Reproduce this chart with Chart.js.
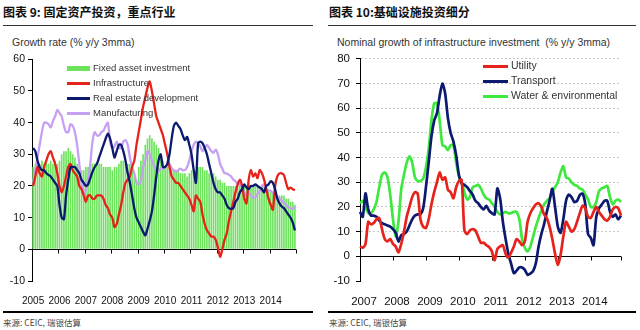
<!DOCTYPE html>
<html>
<head>
<meta charset="utf-8">
<script src="https://cdn.jsdelivr.net/npm/chart.js@4.4.1/dist/chart.umd.min.js"></script>
<style>
  body { margin: 0; width: 640px; height: 330px; background: #fff; position: relative; overflow: hidden;
         font-family: "Liberation Sans", Arial, sans-serif; color: #222; }
  .title { position: absolute; top: 3px; font-family: "Noto Sans CJK SC", sans-serif; font-weight: bold;
           font-size: 12px; line-height: 17px; color: #111; white-space: nowrap; }
  .rule { position: absolute; background: #333; }
  .sub { position: absolute; top: 36px; font-size: 10.5px; line-height: 12px; color: #333; white-space: nowrap; }
  .src { position: absolute; top: 316px; font-family: "Noto Sans CJK SC", sans-serif; font-size: 8.5px;
         line-height: 12px; color: #444; white-space: nowrap; }
  .legend { position: absolute; font-size: 9.5px; color: #333; }
  .legend div { height: 15px; line-height: 15px; white-space: nowrap; }
  .legend span { display: inline-block; vertical-align: middle; margin-right: 3px; }
  canvas { position: absolute; }
</style>
</head>
<body>
<div class="title" style="left:3px">图表 9: 固定资产投资，重点行业</div>
<div class="title" style="left:329px">图表 10:基础设施投资细分</div>
<div class="rule" style="left:3px; top:25px; width:310px; height:1px"></div>
<div class="rule" style="left:328px; top:25px; width:308px; height:1px"></div>
<div class="sub" style="left:12px">Growth rate (% y/y 3mma)</div>
<div class="sub" style="left:337px">Nominal growth of infrastructure investment&nbsp; (% y/y 3mma)</div>

<canvas id="left" width="310" height="255" style="left:0; top:50px"></canvas>
<canvas id="right" width="320" height="259" style="left:320px; top:46px"></canvas>

<div class="legend" style="left:67px; top:60px">
  <div><span style="width:23px; height:5px; background:#6de35c"></span>Fixed asset investment</div>
  <div><span style="width:23px; height:2.5px; background:#e5231b"></span>Infrastructure</div>
  <div><span style="width:23px; height:2.5px; background:#0b1a6e"></span>Real estate development</div>
  <div><span style="width:23px; height:2.5px; background:#c6a0f2"></span>Manufacturing</div>
</div>
<div class="legend" style="left:483px; top:58px; font-size:10.5px">
  <div><span style="width:25px; height:3px; background:#e5231b"></span>Utility</div>
  <div><span style="width:25px; height:3px; background:#0b1a6e"></span>Transport</div>
  <div><span style="width:25px; height:3px; background:#3ee83e"></span>Water &amp; environmental</div>
</div>

<div class="rule" style="left:3px; top:311px; width:310px; height:2px; background:#000"></div>
<div class="rule" style="left:328px; top:311px; width:308px; height:2px; background:#000"></div>
<div class="src" style="left:3px">来源: CEIC, 瑞银估算</div>
<div class="src" style="left:329px">来源: CEIC, 瑞银估算</div>

<script>
// ---- left chart: fixed asset investment by sector, monthly 2005-2014 ----
const leftYears = ['2005', '2006', '2007', '2008', '2009', '2010', '2011', '2012', '2013', '2014'];

const faiValues = [
  26, 27, 27, 27, 28, 27, 28, 27, 28, 27, 28, 27,
  28, 30, 31, 31, 32, 31, 30, 29, 27, 26, 25, 25,
  26, 26, 27, 27, 27, 27, 27, 27, 26, 26, 26, 26,
  25, 26, 26, 27, 28, 28, 28, 27, 27, 25, 23, 22,
  26, 28, 30, 33, 35, 36, 35, 34, 33, 32, 30, 28,
  26, 26, 26, 26, 25, 25, 25, 24, 24, 24, 23, 24,
  25, 25, 25, 26, 26, 26, 25, 25, 24, 24, 24, 23,
  22, 22, 21, 21, 20, 20, 20, 20, 20, 20, 20, 20,
  20, 20, 21, 20, 20, 20, 20, 20, 20, 20, 20, 19,
  18, 18, 17, 17, 17, 17, 17, 16, 16, 15, 15, 14
];

const infraValues = [
  20, 23, 26, 24, 23, 26, 28, 30, 31, 29, 27, 24,
  20, 18, 20, 23, 26, 27, 25, 24, 23, 20, 19, 17,
  15, 17, 17, 16, 16, 17, 17, 17, 16, 14, 13, 11,
  10, 7, 8, 11, 14, 18, 21, 22, 23, 26, 28, 33,
  37, 41, 45, 48, 51, 53, 50, 46, 42, 40, 38, 36,
  33, 30, 26, 23, 22, 21, 21, 20, 19, 18, 17, 16,
  14, 12, 17, 16, 15, 11, 8, 6, 5, 4, 4, 3,
  0.5, -2.4, 0, 3, 5, 9, 12, 15, 18, 20.5, 22, 20,
  16, 14.5, 22, 25, 23, 24, 22.5, 25, 24, 22, 19, 16,
  14, 12.5, 20, 23, 24, 24, 23.5, 21, 19, 19.5, 19, 18.7
];

const realEstateValues = [
  32, 31, 28, 26, 25, 25, 24, 23.5, 23, 22, 21, 20,
  14, 10, 9.5, 17, 22, 26, 26, 26, 25, 24, 22, 21,
  20, 20.5, 22.5, 24.5, 26, 27, 29, 31, 33, 35, 36.5, 35,
  32, 29, 31, 33, 33, 31, 28, 24, 21, 17, 13, 10,
  8.5, 7, 5.5, 4.4, 6.5, 9, 12, 17, 23, 28, 30, 26,
  26, 27, 30, 35, 39, 40, 39, 38, 36, 34.5, 35.5, 33,
  30, 25, 21, 33.5, 34, 33.5, 32, 30, 27, 24, 21, 19,
  18, 18, 17, 16, 14, 13, 12.8, 13, 15, 16, 18, 19,
  20.5, 19.5, 19, 20, 20, 20.5, 20, 19.5, 19, 18, 20, 20.5,
  21.5, 21, 19, 16, 14.5, 13.5, 13, 12, 11, 10, 8.5, 6
];

const manufValues = [
  21, 25, 29, 33, 37, 40, 40, 39.5, 38.5, 40.5, 42, 44,
  43, 42, 39, 37, 37, 39.5, 39, 37, 33, 27, 21, 17.5,
  19, 22, 27, 34, 37, 36, 36, 37, 37.5, 39, 40, 34,
  32, 32.5, 34, 32, 32, 34, 34.5, 33, 29, 26, 24, 21,
  20.5, 21.5, 26, 28, 31, 30, 28, 26.5, 25, 24.5, 25.5, 25.5,
  26, 26.5, 27, 25.5, 25, 24.5, 25, 25.5, 25, 25, 26, 28,
  31, 33, 34, 33.5, 32.5, 31, 32, 33, 32, 31, 30.5, 31.5,
  30, 27, 25.5, 24, 24, 23.5, 23, 22, 21.5, 20.6, 20.5, 19.5,
  18, 17, 18, 17, 16.3, 16.5, 17.5, 18.5, 20, 20.5, 19, 18.5,
  18.5, 17.8, 17.2, 16.5, 16, 15.3, 14.7, 14, 13.3, 13, 12.8, 13.5
];

// ---- right chart: infrastructure breakdown, monthly 2007-2014 ----
const rightYears = ['2007', '2008', '2009', '2010', '2011', '2012', '2013', '2014'];

const utilityValues = [
  4, 3.5, 5, 14, 13, 13.5, 15, 15.5, 11, 7, 6, 7,
  5, 4, 1.6, 5, 10, 16, 20, 24, 26, 25.5, 15, 12,
  11.5, 15, 21, 26, 30, 34, 31, 32, 27, 26, 23.5, 28,
  30.5, 31, 10.5, 9, 10.5, 11, 10.5, 8, 5.5, 5.5, 4.5, 3.7,
  2, -1.6, 3, 4, 4.5, 1, -0.5, 1.5, 4, 7, 6, 4.5,
  6, 14, 17.5, 19.5, 21, 21.5, 20, 17, 15.5, 12, 7, 1,
  -3.5, 0.5, 8, 14, 12, 10, 11, 14, 17.5, 20.5, 19.5, 16,
  15.5, 18, 20, 18, 16.5, 15, 14.5, 16, 19, 20, 19.5, 16.5
];

const transportValues = [
  18, 16, 25.5, 19, 16.5, 16.5, 16, 14.5, 13.5, 13, 12.5, 12,
  11, 9.5, 6, 8.5, 9, 10, 12.5, 15, 16.5, 17, 17, 19.5,
  28, 38, 48.5, 55, 58, 65, 70, 66, 56, 50, 46.5, 41,
  33, 29.5, 29, 28, 26.5, 25, 22.5, 21.5, 20, 19, 20.5, 18.5,
  17.5, 17, 27.5, 23.5, 14, 7, 1, -3, -6.8, -5.8, -4.5, -4.5,
  -5.5, -7.5, -7, -6, -2.8, 4, 9, 13, 18, 22.5, 27.4, 20,
  12, 9.5, 15, 22.5, 25, 24, 22, 22.5, 24.8, 25.4, 21, 9,
  7.5, 4.5, 16, 19.5, 21, 22.5, 22.5, 18, 16, 17, 15, 16.5
];

const waterValues = [
  21.5, 22.5, 20, 17.5, 17.5, 19, 22, 28, 33, 34, 32, 25,
  15, 8, 14, 27, 33, 38, 40.5, 38, 32, 30.5, 30.5, 31.5,
  36, 43.5, 55, 62, 62, 55, 45, 44.5, 43, 45, 45, 38,
  32.5, 30, 26, 23, 24, 28, 28.5, 29, 27.5, 25, 23.5, 23,
  21.5, 20, 18, 17, 17.5, 18, 17.5, 17.5, 18, 18, 15, 7,
  3.5, 2, 4, 8, 12, 15.5, 18.5, 21, 22.5, 23.5, 26, 28,
  30, 34, 36.5, 32, 31.5, 30, 29, 28.5, 27.5, 27, 25, 23,
  20, 20, 22, 26.5, 27.5, 28, 28.5, 24, 21, 22.5, 23, 22
];

// one category per month
function monthLabels(years) {
  const out = [];
  years.forEach(y => {
    for (let m = 1; m <= 12; m++) out.push(y + '-' + m);
  });
  return out;
}

// draws the black zero line with a small tick at the start of each year
const zeroAxis = {
  id: 'zeroAxis',
  beforeDatasetsDraw(chart, args, opts) {
    const { ctx, chartArea, scales: { x, y } } = chart;
    const n = x.getLabels().length;
    const y0 = Math.round(y.getPixelForValue(0)) + 0.5;
    const half = opts.offset ? (x.getPixelForValue(1) - x.getPixelForValue(0)) / 2 : 0;
    ctx.save();
    ctx.strokeStyle = '#000';
    ctx.lineWidth = 1;
    ctx.beginPath();
    ctx.moveTo(chartArea.left, y0);
    ctx.lineTo(chartArea.right, y0);
    for (let i = 12; i <= n; i += 12) {
      const px = Math.round(i < n ? x.getPixelForValue(i) - half : chartArea.right) + 0.5;
      ctx.moveTo(px, y0);
      ctx.lineTo(px, y0 + 4);
    }
    ctx.stroke();
    ctx.restore();
  }
};

function lineSet(label, data, color, order, width) {
  return {
    type: 'line', label, data, order,
    borderColor: color, backgroundColor: color,
    borderWidth: width, pointRadius: 0, tension: 0.25
  };
}

new Chart(document.getElementById('left'), {
  data: {
    labels: monthLabels(leftYears),
    datasets: [
      lineSet('Real estate development', realEstateValues, '#0b1a6e', 0, 2.3),
      lineSet('Infrastructure', infraValues, '#e5231b', 1, 2.3),
      lineSet('Manufacturing', manufValues, '#c6a0f2', 2, 2.3),
      {
        type: 'bar', label: 'Fixed asset investment', data: faiValues, order: 3,
        backgroundColor: '#6de35c', barPercentage: 0.75, categoryPercentage: 1
      }
    ]
  },
  options: {
    responsive: false,
    animation: false,
    devicePixelRatio: 1,
    layout: { padding: { top: 8, right: 14, left: 0, bottom: 0 } },
    plugins: { legend: { display: false }, tooltip: { enabled: false }, zeroAxis: { offset: true } },
    scales: {
      x: {
        offset: true,
        grid: { display: false },
        border: { display: false },
        ticks: {
          autoSkip: false, maxRotation: 0, padding: 6,
          color: '#111', font: { family: 'Liberation Sans', size: 10 },
          callback: (v, i) => (i % 12 === 0 ? leftYears[i / 12] : null)
        },
        afterFit: (s) => { s.height = 24; }
      },
      y: {
        min: -10, max: 60,
        ticks: { stepSize: 10, padding: 3, color: '#111', font: { family: 'Liberation Sans', size: 10.5 } },
        grid: { drawOnChartArea: false, drawTicks: true, tickLength: 4, color: '#000' },
        border: { display: true, color: '#000' },
        afterFit: (s) => { s.width = 32; }
      }
    }
  },
  plugins: [zeroAxis]
});

new Chart(document.getElementById('right'), {
  type: 'line',
  data: {
    labels: monthLabels(rightYears),
    datasets: [
      lineSet('Utility', utilityValues, '#e5231b', 0, 2.7),
      lineSet('Transport', transportValues, '#0b1a6e', 1, 2.7),
      lineSet('Water & environmental', waterValues, '#3ee83e', 2, 2.7)
    ]
  },
  options: {
    responsive: false,
    animation: false,
    devicePixelRatio: 1,
    layout: { padding: { top: 8, right: 19, left: 0, bottom: 0 } },
    plugins: { legend: { display: false }, tooltip: { enabled: false }, zeroAxis: { offset: false } },
    scales: {
      x: {
        offset: false,
        grid: { display: false },
        border: { display: false },
        ticks: {
          autoSkip: false, maxRotation: 0, padding: 6, labelOffset: 4,
          color: '#111', font: { family: 'Liberation Sans', size: 11.5 },
          callback: (v, i) => (i % 12 === 0 ? rightYears[i / 12] : null)
        },
        afterFit: (s) => { s.height = 24; }
      },
      y: {
        min: -10, max: 80,
        ticks: { stepSize: 10, padding: 6, color: '#111', font: { family: 'Liberation Sans', size: 11.5 } },
        grid: {
          drawOnChartArea: true, drawTicks: true, tickLength: 4, tickColor: '#000',
          color: (c) => (c.tick && c.tick.value > 0 ? '#c8c8c8' : 'rgba(0,0,0,0)')
        },
        border: { display: true, color: '#000', dash: [2, 2] },
        afterFit: (s) => { s.width = 40; }
      }
    }
  },
  plugins: [zeroAxis]
});
</script>
</body>
</html>
